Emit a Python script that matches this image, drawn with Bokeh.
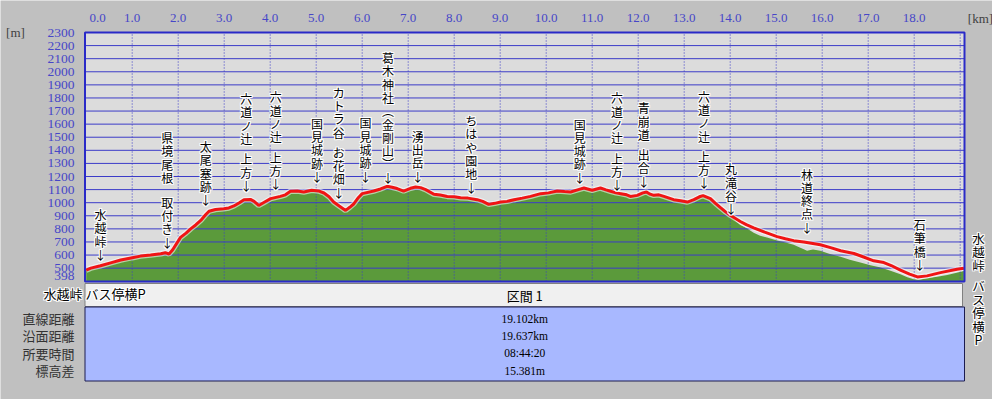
import numpy as np
from bokeh.plotting import figure
from bokeh.models import Range1d, ColumnDataSource
from bokeh.embed import file_html
from bokeh.resources import INLINE
from bokeh.core.properties import value

# ---------------- data ----------------
route_km = [0.00, 0.10, 0.31, 0.55, 0.75, 1.00, 1.18, 1.40, 1.62, 1.72, 1.80, 1.88, 2.05, 2.17, 2.27,
            2.38, 2.49, 2.60, 2.67, 2.81, 2.99, 3.10, 3.21, 3.33, 3.43, 3.57, 3.65, 3.75, 3.88, 4.01,
            4.22, 4.33, 4.44, 4.59, 4.73, 4.90, 5.05, 5.17, 5.28, 5.38, 5.50, 5.64, 5.73, 5.82, 5.92,
            6.00, 6.25, 6.40, 6.54, 6.65, 6.76, 6.90, 7.05, 7.16, 7.27, 7.38, 7.56, 7.70, 7.85, 8.00,
            8.14, 8.30, 8.50, 8.62, 8.75, 8.88, 9.01, 9.15, 9.30, 9.48, 9.66, 9.88, 10.05, 10.24, 10.40,
            10.53, 10.70, 10.82, 11.00, 11.10, 11.18, 11.30, 11.40, 11.52, 11.62, 11.75, 11.83, 11.98,
            12.10, 12.18, 12.26, 12.34, 12.45, 12.56, 12.77, 12.92, 13.07, 13.21, 13.33, 13.41, 13.57,
            13.68, 13.79, 13.90, 14.01, 14.22, 14.35, 14.51, 14.75, 15.02, 15.20, 15.38, 15.60, 15.96,
            16.20, 16.40, 16.69, 16.90, 17.12, 17.34, 17.50, 17.70, 17.90, 18.07, 18.28, 18.57, 18.93,
            19.08]
route_elev = [485, 500, 518, 542, 562, 580, 592, 600, 610, 618, 608, 640, 735, 768, 800,
              830, 864, 910, 935, 948, 954, 960, 975, 1000, 1023, 1025, 1010, 979, 1005, 1031,
              1048, 1060, 1087, 1089, 1082, 1095, 1090, 1074, 1045, 1005, 975, 941, 965, 992, 1040,
              1069, 1089, 1105, 1125, 1118, 1108, 1089, 1110, 1120, 1115, 1100, 1064, 1058, 1048, 1045,
              1038, 1035, 1023, 1010, 987, 995, 1005, 1010, 1023, 1035, 1048, 1069, 1075, 1089, 1085,
              1082, 1100, 1112, 1095, 1105, 1112, 1098, 1087, 1075, 1069, 1060, 1048, 1056,
              1075, 1082, 1065, 1056, 1060, 1048, 1023, 1015, 1005, 1023, 1045, 1054, 1031,
              995, 962, 930, 902, 856, 832, 808, 775, 741, 725, 710, 700, 679,
              655, 633, 612, 585, 556, 543, 520, 485, 455, 433, 441, 466, 492,
              500]

# ground surface (green) follows the route until the descent, where it lies lower
terrain_split_km = 13.95
descent_ground_km = [14.01, 14.12, 14.22, 14.32, 14.40, 14.51, 14.65, 14.80, 15.02, 15.20, 15.38,
                     15.50, 15.60, 15.67, 15.80, 15.96, 16.15, 16.40, 16.60, 16.83, 17.05, 17.27,
                     17.50, 17.70, 17.85, 17.99, 18.10, 18.28, 18.50, 18.72, 18.90, 19.08]
descent_ground_elev = [895, 860, 830, 812, 795, 770, 748, 735, 712, 695, 679,
                       660, 645, 633, 642, 633, 610, 587, 565, 543, 522, 505,
                       478, 454, 430, 415, 412, 423, 435, 448, 462, 479]

waypoint_km = [0.31, 1.76, 2.60, 3.48, 4.12, 5.02, 5.49, 6.07, 6.56, 7.21, 8.37, 10.73,
               11.54, 12.12, 13.43, 14.02, 15.67, 18.12]
waypoint_elev = [513, 607, 930, 1040, 1053, 1108, 988, 1111, 1103, 1111, 1027, 1103,
                 1045, 1072, 1059, 862, 721, 436]
waypoint_names = ["水越峠", "県境尾根　取付き", "太尾塞跡", "六道ノ辻 上方", "六道ノ辻 上方",
                  "国見城跡", "カトラ谷 お花畑", "国見城跡", "葛木神社︵金剛山︶", "湧出岳",
                  "ちはや園地", "国見城跡", "六道ノ辻 上方", "青崩道 出合", "六道ノ辻 上方",
                  "丸滝谷", "林道終点", "石筆橋"]
start_name = "水越峠 バス停横P"
goal_name = "水越峠 バス停横P"

section_title = "区間 1"
summary_labels = ["直線距離", "沿面距離", "所要時間", "標高差"]
summary_values = ["19.102km", "19.637km", "08:44:20", "15.381m"]

x_tick_km = list(range(0, 19))
x_tick_labels = [f"{k:.1f}" for k in x_tick_km]
x_grid_km = list(range(1, 20))
y_tick_m = [398] + list(range(500, 2301, 100))
y_tick_labels = [str(v) for v in y_tick_m]
h_grid_m = list(range(500, 2301, 100))
ELEV_MIN, ELEV_MAX = 398, 2300
x_unit, y_unit = "[km]", "[m]"

terrain_km = [k for k in route_km if k < terrain_split_km] + descent_ground_km
terrain_elev = [e for k, e in zip(route_km, route_elev) if k < terrain_split_km] + descent_ground_elev
terrain_elev[route_km.index(1.80)] = 598

# ---------------- layout (page pixels -> scales) ----------------
W, H = 992, 399
KM0_PX, PX_PER_KM = 85.7, 46.0
PLOT_L_PX, PLOT_R_PX = 84.5, 964.0
PLOT_TOP_PX, PLOT_BOT_PX = 32.0, 281.0
PX_PER_M = (PLOT_BOT_PX - PLOT_TOP_PX) / (ELEV_MAX - ELEV_MIN)
ROW0_PX, ROW_PX = 318.0, 17.4


def kx(px):
    return (px - KM0_PX) / PX_PER_KM


def my(py):
    return ELEV_MIN + (PLOT_BOT_PX - py) / PX_PER_M


def ty(py):
    return (py - ROW0_PX) / ROW_PX


JP = "Noto Sans CJK JP"
SERIF = "Liberation Serif"
AXIS_BLUE = "#4646c8"
GRID_BLUE = "#3c3cc8"
HALO = [(-1, -1), (-1, 0), (-1, 1), (0, -1), (0, 1), (1, -1), (1, 0), (1, 1)]

p = figure(width=W, height=H, output_backend="svg", toolbar_location=None,
           x_range=Range1d(kx(0), kx(W)), y_range=Range1d(my(H), my(0)),
           x_axis_location=None, y_axis_location=None, min_border=0)
p.extra_y_ranges = {"table": Range1d(ty(H), ty(0))}
p.grid.visible = False
p.background_fill_color = "#c0c0c0"
p.border_fill_color = "#c0c0c0"
p.outline_line_color = None

plot_left, plot_right = kx(PLOT_L_PX), kx(PLOT_R_PX)

# plot area background and ground
p.quad(left=plot_left, right=plot_right, bottom=ELEV_MIN, top=ELEV_MAX,
       fill_color="#dcdcdc", line_color=None, level="image")
p.varea(x=terrain_km, y1=ELEV_MIN, y2=terrain_elev, fill_color="#5b9a3b", level="image")

# grid
p.segment(x0=plot_left, y0=h_grid_m, x1=plot_right, y1=h_grid_m,
          line_color=GRID_BLUE, line_width=1, level="underlay")
p.segment(x0=x_grid_km, y0=ELEV_MIN, x1=x_grid_km, y1=ELEV_MAX,
          line_color=GRID_BLUE, line_dash="1 2", line_width=1, level="underlay")

# route
p.line(route_km, route_elev, line_color="white", line_width=5.5, line_alpha=0.55)
p.line(route_km, route_elev, line_color="#f01414", line_width=3)

# plot border
p.quad(left=plot_left, right=plot_right, bottom=ELEV_MIN, top=ELEV_MAX,
       fill_color=None, line_color="#2a2ac8", line_width=2)

# tick labels (drawn at the tick values through the scales)
p.text(x=x_tick_km, y=[my(17.5)] * len(x_tick_km), text=x_tick_labels,
       x_offset=[11.5] + [0] * (len(x_tick_km) - 1),
       text_color=AXIS_BLUE, text_font=value(SERIF), text_font_size="13px",
       text_align="center", text_baseline="middle")
p.text(x=[kx(74)] * len(y_tick_m), y=y_tick_m, text=y_tick_labels,
       y_offset=[-6] + [0] * (len(y_tick_m) - 1),
       text_color=AXIS_BLUE, text_font=value(SERIF), text_font_size="13.5px",
       text_align="right", text_baseline="middle")
p.text(x=[kx(15), kx(980)], y=[ELEV_MAX, my(17.5)], text=[y_unit, x_unit],
       text_color="#404040", text_font=value(SERIF), text_font_size="13px",
       text_align="center", text_baseline="middle")


def halo_text(xs, ys, texts, size, align, range_name="default"):
    hx, hy, ht, hdx, hdy = [], [], [], [], []
    for x, y, t in zip(xs, ys, texts):
        for dx, dy in HALO:
            hx.append(x); hy.append(y); ht.append(t); hdx.append(dx); hdy.append(dy)
    p.text(x="x", y="y", text="t", x_offset="dx", y_offset="dy", y_range_name=range_name,
           source=ColumnDataSource(dict(x=hx, y=hy, t=ht, dx=hdx, dy=hdy)),
           text_color="white", text_font=value(JP), text_font_size=size,
           text_align=align, text_baseline="middle")
    p.text(x="x", y="y", text="t", y_range_name=range_name,
           source=ColumnDataSource(dict(x=list(xs), y=list(ys), t=list(texts))),
           text_color="black", text_font=value(JP), text_font_size=size,
           text_align=align, text_baseline="middle")


# waypoint labels (vertical text + arrow)
PITCH, HALF_SP, FULL_SP, GAP = 13.3, 7.0, 11.5, 12.0
cx, cy, ct = [], [], []
for k, e, name in zip(waypoint_km, waypoint_elev, waypoint_names):
    off = 0.0
    items = [("↓", 0.0)]
    for ch in reversed(name):
        if ch == " ":
            off += HALF_SP
            continue
        if ch == "　":
            off += FULL_SP
            continue
        off += PITCH
        items.append((ch, off))
    for ch, o in items:
        cx.append(k)
        cy.append(e + (GAP + o) / PX_PER_M)
        ct.append(ch)
halo_text(cx, cy, ct, "12px", "center")

# summary table
p.quad(left=plot_left, right=kx(962), bottom=ty(306), top=ty(283), y_range_name="table",
       fill_color="#f0f0f0", line_color="#808080", line_width=1)
p.quad(left=plot_left, right=plot_right, bottom=ty(380.5), top=ty(306.5), y_range_name="table",
       fill_color="#a8b8ff", line_color="#1c1c50", line_width=1)
mid_km = (plot_left + plot_right) / 2
p.text(x=[mid_km], y=[ty(294.5)], text=[section_title], y_range_name="table",
       text_color="black", text_font=value(JP), text_font_size="13px",
       text_align="center", text_baseline="middle")
rows = list(range(len(summary_values)))
p.text(x=[mid_km] * len(rows), y=rows, text=summary_values, y_range_name="table",
       text_color="black", text_font=value(SERIF), text_font_size="11.5px",
       text_align="center", text_baseline="middle")
p.text(x=[kx(74)] * len(rows), y=rows, text=summary_labels, y_range_name="table",
       text_color="#333333", text_font=value(JP), text_font_size="13px",
       text_align="right", text_baseline="middle")

# start point label (horizontal, bottom left)
halo_text([kx(43)], [ty(293)], [start_name], "13px", "left", "table")

# goal label (vertical, right margin)
gx, gy, gt = [], [], []
py = 237.5
first = True
for ch in goal_name:
    if ch == " ":
        py += HALF_SP
        continue
    if not first:
        py += 13.5
    first = False
    gx.append(kx(978)); gy.append(ty(py)); gt.append(ch)
halo_text(gx, gy, gt, "12.5px", "center", "table")

open("out.html", "w").write(file_html(p, INLINE))
